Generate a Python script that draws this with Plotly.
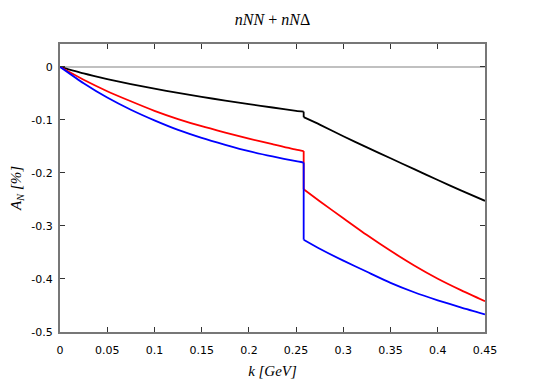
import plotly.graph_objects as go

# k values [GeV]; the jump sits at k = 0.258
k_pre = [0, 0.025, 0.05, 0.075, 0.1, 0.125, 0.15, 0.175, 0.2, 0.225, 0.25, 0.258]
k_post = [0.258, 0.275, 0.3, 0.325, 0.35, 0.375, 0.4, 0.425, 0.45]

# A_N [%]
black_pre = [0, -0.0125, -0.023, -0.0325, -0.0412, -0.0492, -0.0567, -0.0637, -0.0703, -0.0767, -0.0829, -0.0845]
black_post = [-0.095, -0.109, -0.131, -0.152, -0.1725, -0.193, -0.2135, -0.2335, -0.2527]

red_pre = [0, -0.0245, -0.046, -0.065, -0.083, -0.0985, -0.112, -0.124, -0.1355, -0.146, -0.1562, -0.1588]
red_post = [-0.231, -0.2535, -0.2855, -0.3172, -0.347, -0.3745, -0.3995, -0.4215, -0.442]

blue_pre = [0, -0.031, -0.058, -0.081, -0.101, -0.119, -0.134, -0.147, -0.159, -0.169, -0.178, -0.1805]
blue_post = [-0.326, -0.343, -0.3655, -0.3865, -0.4073, -0.425, -0.4402, -0.454, -0.4667]

x_ticks = [0, 0.05, 0.1, 0.15, 0.2, 0.25, 0.3, 0.35, 0.4, 0.45]
x_labels = ["0", "0.05", "0.1", "0.15", "0.2", "0.25", "0.3", "0.35", "0.4", "0.45"]
y_ticks = [0, -0.1, -0.2, -0.3, -0.4, -0.5]
y_labels = ["0", "-0.1", "-0.2", "-0.3", "-0.4", "-0.5"]

fig = go.Figure()
for pre, post, col in [(black_pre, black_post, "black"),
                       (red_pre, red_post, "#ff0000"),
                       (blue_pre, blue_post, "#0000ff")]:
    ln = dict(color=col, width=1.8, shape="spline", smoothing=0.6)
    fig.add_trace(go.Scatter(x=k_pre, y=pre, mode="lines", line=ln, showlegend=False))
    # vertical jump at the threshold
    fig.add_trace(go.Scatter(x=[k_pre[-1], k_post[0]], y=[pre[-1], post[0]], mode="lines",
                             line=dict(color=col, width=1.8), showlegend=False))
    fig.add_trace(go.Scatter(x=k_post, y=post, mode="lines", line=ln, showlegend=False))

axis_common = dict(showline=True, linecolor="#777777", linewidth=2, mirror="allticks",
                   ticks="inside", ticklen=5, tickcolor="#333333", tickwidth=1,
                   showgrid=False, automargin=False,
                   tickfont=dict(family="DejaVu Sans", size=11, color="black"))

fig.update_xaxes(range=[0, 0.45], tickvals=x_ticks, ticktext=x_labels, zeroline=False,
                 ticklabelstandoff=7,
                 title=dict(text="<i>k [GeV]</i>", font=dict(family="Liberation Serif", size=15, color="black"),
                            standoff=14),
                 **axis_common)
fig.update_yaxes(range=[-0.5, 0.043], tickvals=y_ticks, ticktext=y_labels,
                 zeroline=True, zerolinecolor="#c0c0c0", zerolinewidth=1.5,
                 ticklabelstandoff=3,
                 title=dict(text="<i>A<sub>N</sub> [%]</i>", font=dict(family="Liberation Serif", size=15, color="black"),
                            standoff=16),
                 **axis_common)

# page body adds an 8px offset, so the figure is sized 8px smaller
fig.update_layout(
    width=537, height=371,
    margin=dict(l=52, r=60, t=36, b=47),
    plot_bgcolor="white", paper_bgcolor="white",
    title=dict(text="<i>nNN</i> + <i>nN</i>Δ", x=(52 + 212.5) / 537, xanchor="center",
               y=0.97, yanchor="middle", yref="container",
               font=dict(family="Liberation Serif", size=16, color="black")),
)

fig.write_html("out.html")
